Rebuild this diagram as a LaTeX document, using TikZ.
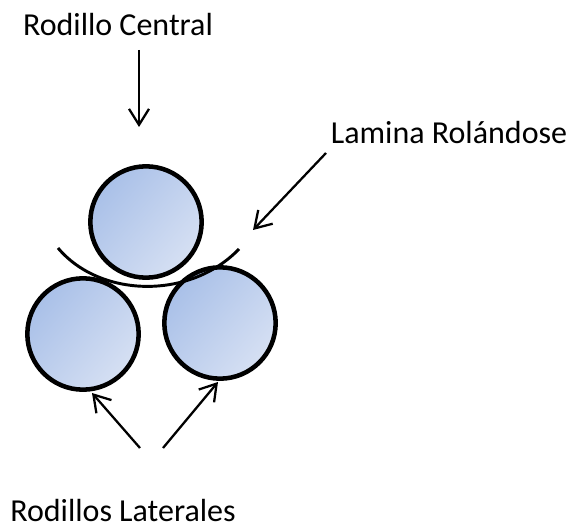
\documentclass[tikz,border=0pt]{standalone}
\usepackage{fontspec}
\setmainfont{Carlito}
\usetikzlibrary{arrows.meta}
\definecolor{rollerdark}{HTML}{A9C0E8}
\definecolor{rollerlight}{HTML}{D6E0F3}
\tikzset{
  roller/.style={
    circle, draw=black, line width=3.4pt,
    minimum size=83.5pt, inner sep=0pt,
    shading=axis, left color=rollerdark, right color=rollerlight,
    shading angle=50
  },
  label/.style={inner sep=0pt, font=\fontsize{24}{28}\selectfont},
  arrow/.style={-{Straight Barb[length=12pt,width=15pt,line width=1.7pt]}, line width=1.7pt, draw=black}
}

\begin{document}
\begin{tikzpicture}[x=0.75pt,y=-0.75pt]
    \useasboundingbox (0,0) rectangle (571,527);
    \node[roller] (rollerTop) at (146,222) {};
    \node[roller] (rollerLeft) at (83,334) {};
    \node[roller] (rollerRight) at (220,323) {};
    % lamina over the right roller
    \coordinate (laminaL) at (58,248);
    \coordinate (laminaR) at (239,249);
    \draw[line width=2.2pt] (laminaL) .. controls (100,298) and (190,300) .. (laminaR);
    \node[label,anchor=base] (central) at (118,36) {Rodillo Central};
    \node[label,anchor=base] (lamina) at (449,144) {Lamina Rolándose};
    \node[label,anchor=base] (laterales) at (123,521) {Rodillos Laterales};
    \coordinate (centralFrom) at (139,50);
    \coordinate (centralTo) at (139,127);
    \coordinate (laminaFrom) at (326,153);
    \coordinate (laminaTo) at (253,230);
    \coordinate (leftFrom) at (140,448);
    \coordinate (leftTo) at (92,393);
    \coordinate (rightFrom) at (163,448);
    \coordinate (rightTo) at (218,382);
    \draw[arrow] (centralFrom) -- (centralTo);
    \draw[arrow] (laminaFrom) -- (laminaTo);
    \draw[arrow] (leftFrom) -- (leftTo);
    \draw[arrow] (rightFrom) -- (rightTo);
\end{tikzpicture}
\end{document}
